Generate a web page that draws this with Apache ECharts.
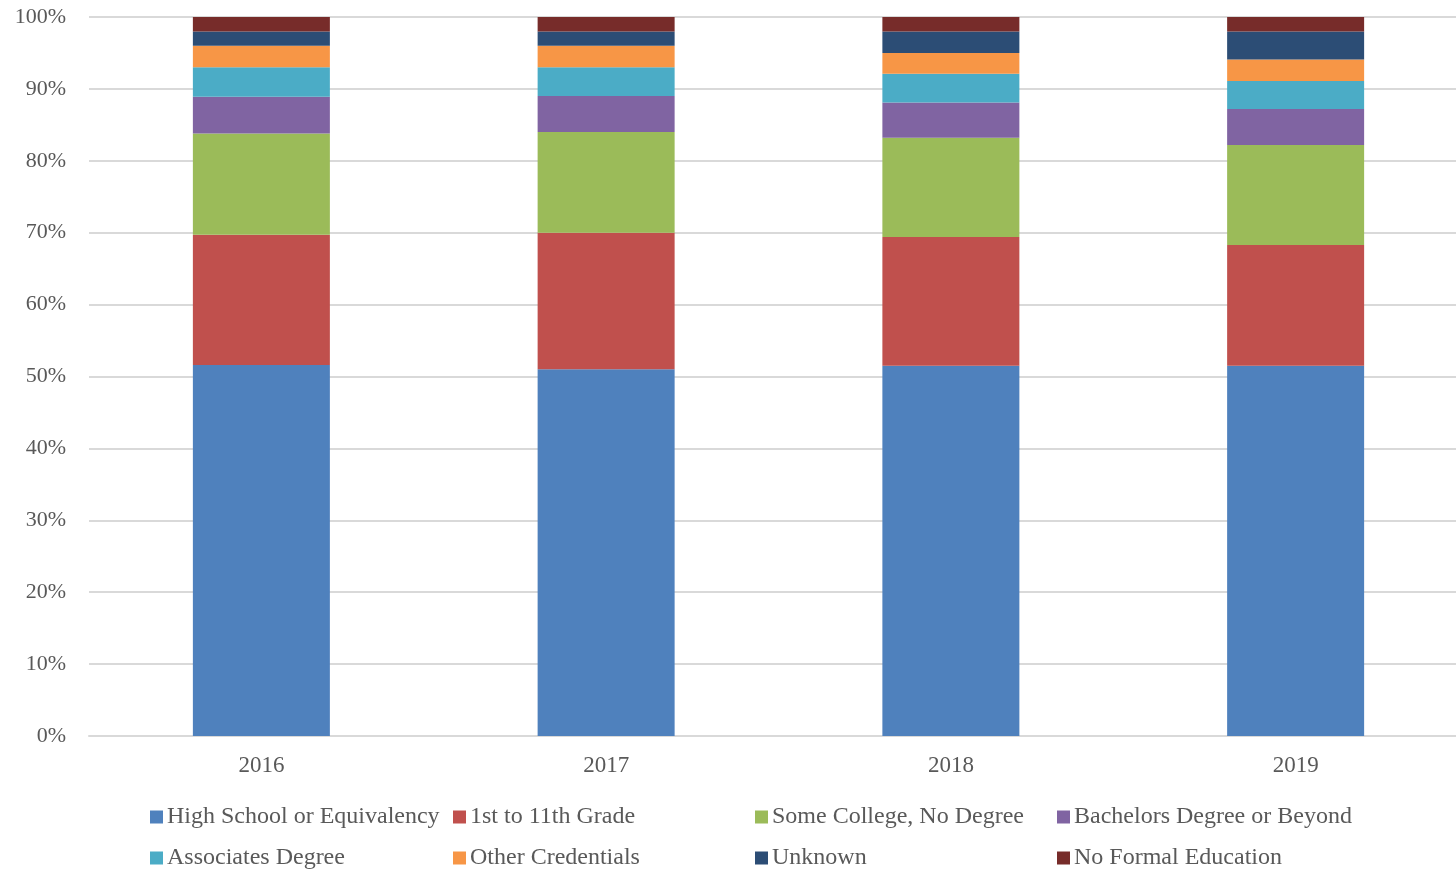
<!DOCTYPE html>
<html>
<head>
<meta charset="utf-8">
<script src="https://cdn.jsdelivr.net/npm/echarts@6/dist/echarts.min.js"></script>
<style>
  html, body { margin: 0; padding: 0; background: #fff; }
  #chart { width: 1456px; height: 869px; }
</style>
</head>
<body>
<div id="chart"></div>
<script>
// Share of participants by education level, per year (percent)
const years = ['2016', '2017', '2018', '2019'];
const highSchool   = [51.6, 51.0, 51.5, 51.5];
const grade1to11   = [18.1, 19.0, 17.9, 16.8];
const someCollege  = [14.1, 14.0, 13.8, 13.9];
const bachelors    = [5.1, 5.0, 4.9, 5.0];
const associates   = [4.1, 4.0, 4.0, 3.9];
const otherCreds   = [3.0, 3.0, 2.9, 3.0];
const unknown      = [2.0, 2.0, 3.0, 3.9];
const noFormal     = [2.0, 2.0, 2.0, 2.0];

const seriesNames = [
  'High School or Equivalency', '1st to 11th Grade', 'Some College, No Degree',
  'Bachelors Degree or Beyond', 'Associates Degree', 'Other Credentials',
  'Unknown', 'No Formal Education'
];
const seriesData = [highSchool, grade1to11, someCollege, bachelors, associates, otherCreds, unknown, noFormal];
const colors = ['#4F81BD', '#C0504D', '#9BBB59', '#8064A2', '#4BACC6', '#F79646', '#2C4D75', '#772C2A'];

const font = 'Liberation Serif';
const textColor = '#595959';

// one legend per entry so the columns line up
const legendPos = [
  [150, 805], [453, 805], [755, 805], [1057, 805],
  [150, 846], [453, 846], [755, 846], [1057, 846]
];
const legends = seriesNames.map((name, i) => ({
  data: [name],
  left: legendPos[i][0],
  top: legendPos[i][1],
  padding: 0,
  itemWidth: 13,
  itemHeight: 13,
  itemGap: 0,
  icon: 'rect',
  selectedMode: false,
  textStyle: { fontFamily: font, fontSize: 24, color: textColor, padding: [0, 0, 0, -1] }
}));

const chart = echarts.init(document.getElementById('chart'), null, { renderer: 'canvas' });
chart.setOption({
  animation: false,
  backgroundColor: '#fff',
  color: colors,
  // plot extends slightly beyond the right edge of the canvas
  grid: { left: 89, width: 1379, top: 17, bottom: 133, outerBoundsMode: 'none', containLabel: false },
  legend: legends,
  xAxis: {
    type: 'category',
    data: years,
    axisLine: { lineStyle: { color: '#d9d9d9', width: 2 } },
    axisTick: { show: false },
    axisLabel: { fontFamily: font, fontSize: 23, color: textColor, margin: 18 }
  },
  yAxis: {
    type: 'value',
    min: 0,
    max: 100,
    interval: 10,
    axisLine: { show: false },
    axisTick: { show: false },
    splitLine: { lineStyle: { color: '#d9d9d9', width: 2 } },
    axisLabel: {
      fontFamily: font, fontSize: 22, color: textColor, margin: 23,
      formatter: v => v + '%'
    }
  },
  series: seriesNames.map((name, i) => ({
    name,
    type: 'bar',
    stack: 'total',
    barWidth: 137,
    data: seriesData[i],
    itemStyle: { color: colors[i] }
  }))
});
</script>
</body>
</html>
